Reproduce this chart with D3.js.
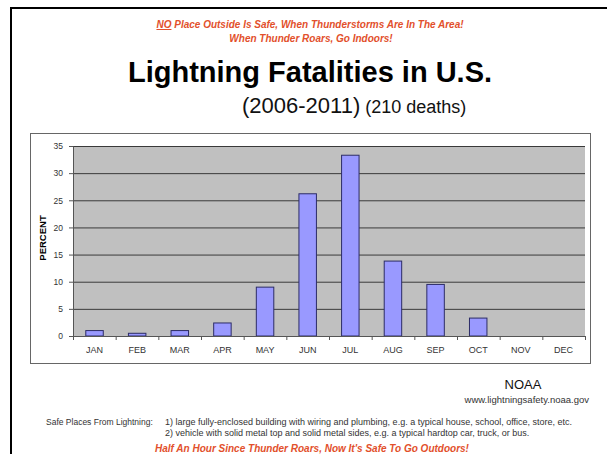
<!DOCTYPE html>
<html>
<head>
<meta charset="utf-8">
<script src="https://cdn.jsdelivr.net/npm/d3@7.9.0/dist/d3.min.js"></script>
<style>
  body { margin: 0; background: #fff; }
  svg { display: block; font-family: "Liberation Sans", Arial, sans-serif; }
</style>
</head>
<body>
<svg id="chart" width="607" height="454"></svg>
<script>
const months = ["JAN", "FEB", "MAR", "APR", "MAY", "JUN", "JUL", "AUG", "SEP", "OCT", "NOV", "DEC"];
const percent = [1.0, 0.5, 1.0, 2.4, 9.0, 26.2, 33.3, 13.8, 9.5, 3.3, 0, 0];
const yTicks = [0, 5, 10, 15, 20, 25, 30, 35];
const safePlaces = [
  "1) large fully-enclosed building with wiring and plumbing, e.g. a typical house, school, office, store, etc.",
  "2) vehicle with solid metal top and solid metal sides, e.g. a typical hardtop car, truck, or bus.",
];

const red = "#e2502c";
const svg = d3.select("#chart");

// page frame
svg.append("line").attr("x1", 11).attr("x2", 607).attr("y1", 8).attr("y2", 8)
  .attr("stroke", "#000").attr("stroke-width", 2);
svg.append("line").attr("x1", 11).attr("x2", 11).attr("y1", 7).attr("y2", 454)
  .attr("stroke", "#000").attr("stroke-width", 2);

// warning lines
const warn = svg.append("text").attr("x", 310).attr("y", 28)
  .attr("text-anchor", "middle").attr("fill", red)
  .attr("font-size", 10).attr("font-style", "italic").attr("font-weight", "bold");
warn.append("tspan").attr("text-decoration", "underline").text("NO");
warn.append("tspan").text(" Place Outside Is Safe, When Thunderstorms Are In The Area!");

svg.append("text").attr("x", 311).attr("y", 42)
  .attr("text-anchor", "middle").attr("fill", red)
  .attr("font-size", 10).attr("font-style", "italic").attr("font-weight", "bold")
  .text("When Thunder Roars, Go Indoors!");

svg.append("text").attr("x", 310).attr("y", 82)
  .attr("text-anchor", "middle").attr("font-size", 29).attr("font-weight", "bold")
  .text("Lightning Fatalities in U.S.");

const sub = svg.append("text").attr("x", 242).attr("y", 113).attr("fill", "#111");
sub.append("tspan").attr("font-size", 22).text("(2006-2011)");
sub.append("tspan").attr("font-size", 18).text(" (210 deaths)");

// chart box
svg.append("rect").attr("x", 30.5).attr("y", 133.5).attr("width", 560).attr("height", 230)
  .attr("fill", "#fff").attr("stroke", "#666");

const plot = { left: 73, right: 585, top: 146, bottom: 336 };

const x = d3.scaleBand().domain(months).range([plot.left, plot.right]).paddingInner(0.59).paddingOuter(0.3);
const y = d3.scaleLinear().domain([0, 35]).range([plot.bottom, plot.top]);

svg.append("rect").attr("x", plot.left).attr("y", plot.top)
  .attr("width", plot.right - plot.left).attr("height", plot.bottom - plot.top)
  .attr("fill", "#c0c0c0");

// gridlines
svg.append("g")
  .attr("transform", `translate(${plot.left},0)`)
  .call(d3.axisLeft(y).tickValues(yTicks.slice(1)).tickFormat("").tickSize(-(plot.right - plot.left)))
  .call(g => g.select(".domain").remove())
  .call(g => g.selectAll("line").attr("stroke", "#3a3a3a"));

// y axis
svg.append("g")
  .attr("transform", `translate(${plot.left},0)`)
  .call(d3.axisLeft(y).tickValues(yTicks).tickSize(4).tickPadding(6))
  .call(g => g.select(".domain").attr("stroke", "#555"))
  .call(g => g.selectAll("line").attr("stroke", "#555"))
  .call(g => g.selectAll("text").attr("font-size", 8.5).attr("fill", "#333")
    .attr("font-family", "Liberation Sans, Arial, sans-serif"));

// bars
svg.append("g").selectAll("rect").data(months).join("rect")
  .attr("x", (d) => x(d))
  .attr("y", (d, i) => y(percent[i]))
  .attr("width", x.bandwidth())
  .attr("height", (d, i) => y(0) - y(percent[i]))
  .attr("fill", "#9999ff")
  .attr("stroke", "#2c2c66")
  .attr("stroke-width", 1)
  .attr("display", (d, i) => percent[i] > 0 ? null : "none");

// x axis with ticks between categories
const edges = months.map((d, i) => plot.left + (plot.right - plot.left) * (i + 1) / months.length);
const xAxis = svg.append("g").attr("transform", `translate(0,${plot.bottom})`);
xAxis.append("line").attr("x1", plot.left).attr("x2", plot.right).attr("y1", 0.5).attr("y2", 0.5)
  .attr("stroke", "#555");
xAxis.selectAll("line.tick").data([plot.left, ...edges]).join("line").attr("class", "tick")
  .attr("x1", (d) => d + 0.5).attr("x2", (d) => d + 0.5).attr("y1", 0).attr("y2", 4)
  .attr("stroke", "#555");
xAxis.selectAll("text").data(months).join("text")
  .attr("x", (d) => x(d) + x.bandwidth() / 2)
  .attr("y", 17)
  .attr("text-anchor", "middle").attr("font-size", 9).attr("fill", "#333")
  .text((d) => d);

svg.append("text")
  .attr("transform", `translate(46,${(plot.top + plot.bottom) / 2 - 3}) rotate(-90)`)
  .attr("text-anchor", "middle").attr("font-size", 9.5).attr("font-weight", "bold")
  .text("PERCENT");

// footer
svg.append("text").attr("x", 523).attr("y", 389).attr("text-anchor", "middle")
  .attr("font-size", 13).attr("fill", "#111").text("NOAA");
svg.append("text").attr("x", 589).attr("y", 403).attr("text-anchor", "end")
  .attr("font-size", 9.5).attr("fill", "#333").text("www.lightningsafety.noaa.gov");

svg.append("text").attr("x", 46).attr("y", 425).attr("font-size", 8.5).attr("fill", "#333")
  .text("Safe Places From Lightning:");
svg.append("g").selectAll("text").data(safePlaces).join("text")
  .attr("x", 165).attr("y", (d, i) => 425 + i * 10.5)
  .attr("font-size", 9).attr("fill", "#333").text((d) => d);

svg.append("text").attr("x", 312).attr("y", 452)
  .attr("text-anchor", "middle").attr("fill", red)
  .attr("font-size", 10).attr("font-style", "italic").attr("font-weight", "bold")
  .text("Half An Hour Since Thunder Roars, Now It's Safe To Go Outdoors!");
</script>
</body>
</html>
